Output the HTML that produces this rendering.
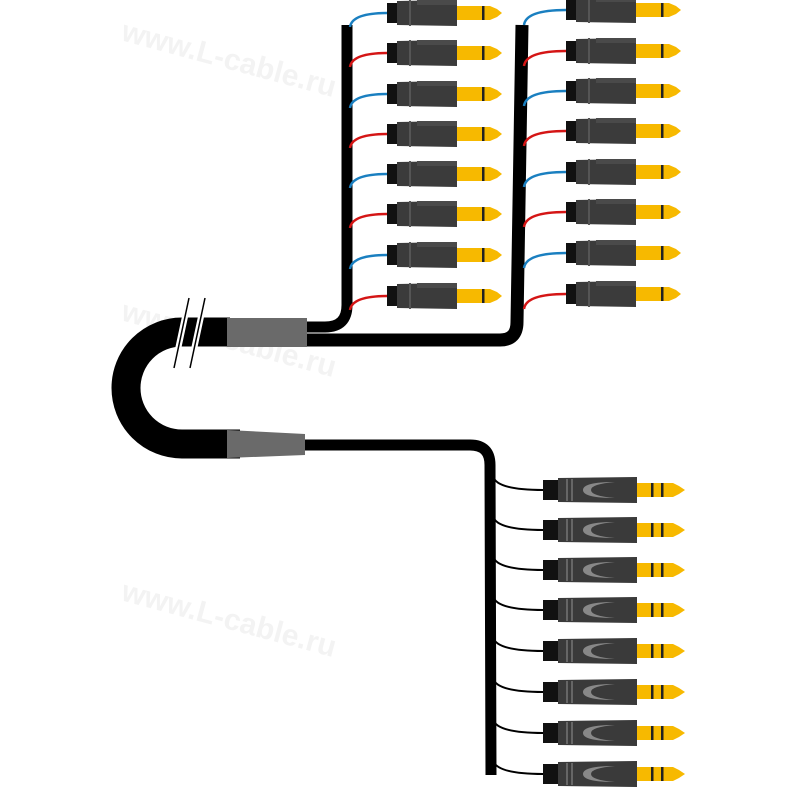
<!DOCTYPE html>
<html><head><style>html,body{margin:0;padding:0;background:#fff;}svg{display:block}</style></head>
<body>
<svg width="800" height="800" viewBox="0 0 800 800" xmlns="http://www.w3.org/2000/svg">
<defs>
  <g id="mono">
    <rect x="0" y="-10" width="11" height="20" fill="#111"/>
    <path d="M10,-12 L70,-13 L70,13 L10,12 Z" fill="#3b3b3b"/>
    <rect x="22" y="-13" width="2" height="26" fill="#555"/>
    <rect x="30" y="-13" width="40" height="5" fill="#4a4a4a"/>
    <rect x="70" y="-7" width="33" height="14" fill="#f7b900"/>
    <rect x="95" y="-7" width="2.5" height="14" fill="#222"/>
    <path d="M103,-7 L110,-4 L115,0 L110,4 L103,7 Z" fill="#f7b900"/>
  </g>
  <g id="stereo">
    <rect x="0" y="-10" width="17" height="20" fill="#111"/>
    <path d="M15,-12 L94,-13 L94,13 L15,12 Z" fill="#3a3a3a"/>
    <rect x="23" y="-11" width="2" height="22" fill="#666"/>
    <rect x="28" y="-11" width="2" height="22" fill="#666"/>
    <path d="M72,-8 Q40,-8 40,0 Q40,8 72,8 Q48,6 48,0 Q48,-6 72,-8 Z" fill="#888"/>
    <rect x="94" y="-7" width="36" height="14" fill="#f7b900"/>
    <rect x="108" y="-7" width="2.5" height="14" fill="#222"/>
    <rect x="118" y="-7" width="2.5" height="14" fill="#222"/>
    <path d="M130,-7 L136,-4 L142,0 L136,4 L130,7 Z" fill="#f7b900"/>
  </g>
</defs>

<g fill="#f3f3f3" font-family="Liberation Sans, sans-serif" font-weight="bold">
  <text x="120" y="40" font-size="30" transform="rotate(15 120 40)">www.L-cable.ru</text>
  <text x="120" y="320" font-size="30" transform="rotate(15 120 320)">www.L-cable.ru</text>
  <text x="120" y="600" font-size="30" transform="rotate(15 120 600)">www.L-cable.ru</text>
</g>

<!-- main cable loop -->
<path d="M230,332 L182,332 A56,56 0 0 0 182,444 L240,444" fill="none" stroke="#000" stroke-width="29"/>
<rect x="227" y="318" width="80" height="29" fill="#6a6a6a"/>
<path d="M227,430 L305,434 L305,455 L227,458 Z" fill="#6a6a6a"/>
<line x1="189" y1="298" x2="174" y2="368" stroke="#fff" stroke-width="6"/>
<line x1="205" y1="298" x2="190" y2="368" stroke="#fff" stroke-width="6"/>
<line x1="189" y1="298" x2="174" y2="368" stroke="#000" stroke-width="1.5"/>
<line x1="205" y1="298" x2="190" y2="368" stroke="#000" stroke-width="1.5"/>

<path d="M307,327 L325,327 Q347,327 347,305 L347,25" fill="none" stroke="#000" stroke-width="11"/>
<path d="M307,340 L500,340 Q517,340 517,322 L522,25" fill="none" stroke="#000" stroke-width="13"/>

<path d="M305,445 L470,445 Q490,445 490,465 L491,775" fill="none" stroke="#000" stroke-width="11"/>

<g fill="none" stroke-width="2.5">
  <path d="M350,27 Q352,13 387,13" stroke="#1a7fc0"/>
  <path d="M350,67 Q352,53 387,53" stroke="#d41515"/>
  <path d="M350,108 Q352,94 387,94" stroke="#1a7fc0"/>
  <path d="M350,148 Q352,134 387,134" stroke="#d41515"/>
  <path d="M350,188 Q352,174 387,174" stroke="#1a7fc0"/>
  <path d="M350,228 Q352,214 387,214" stroke="#d41515"/>
  <path d="M350,269 Q352,255 387,255" stroke="#1a7fc0"/>
  <path d="M350,310 Q352,296 387,296" stroke="#d41515"/>
</g>
<use href="#mono" x="387" y="13"/>
<use href="#mono" x="387" y="53"/>
<use href="#mono" x="387" y="94"/>
<use href="#mono" x="387" y="134"/>
<use href="#mono" x="387" y="174"/>
<use href="#mono" x="387" y="214"/>
<use href="#mono" x="387" y="255"/>
<use href="#mono" x="387" y="296"/>

<g fill="none" stroke-width="2.5">
  <path d="M524,25 Q526,10 566,10" stroke="#1a7fc0"/>
  <path d="M524,66 Q526,51 566,51" stroke="#d41515"/>
  <path d="M524,106 Q526,91 566,91" stroke="#1a7fc0"/>
  <path d="M524,146 Q526,131 566,131" stroke="#d41515"/>
  <path d="M524,187 Q526,172 566,172" stroke="#1a7fc0"/>
  <path d="M524,227 Q526,212 566,212" stroke="#d41515"/>
  <path d="M524,268 Q526,253 566,253" stroke="#1a7fc0"/>
  <path d="M524,309 Q526,294 566,294" stroke="#d41515"/>
</g>
<use href="#mono" x="566" y="10"/>
<use href="#mono" x="566" y="51"/>
<use href="#mono" x="566" y="91"/>
<use href="#mono" x="566" y="131"/>
<use href="#mono" x="566" y="172"/>
<use href="#mono" x="566" y="212"/>
<use href="#mono" x="566" y="253"/>
<use href="#mono" x="566" y="294"/>

<g fill="none" stroke="#000" stroke-width="2">
  <path d="M493,476 Q496,490 543,490"/>
  <path d="M493,516 Q496,530 543,530"/>
  <path d="M493,556 Q496,570 543,570"/>
  <path d="M493,596 Q496,610 543,610"/>
  <path d="M493,637 Q496,651 543,651"/>
  <path d="M493,678 Q496,692 543,692"/>
  <path d="M493,719 Q496,733 543,733"/>
  <path d="M493,760 Q496,774 543,774"/>
</g>
<use href="#stereo" x="543" y="490"/>
<use href="#stereo" x="543" y="530"/>
<use href="#stereo" x="543" y="570"/>
<use href="#stereo" x="543" y="610"/>
<use href="#stereo" x="543" y="651"/>
<use href="#stereo" x="543" y="692"/>
<use href="#stereo" x="543" y="733"/>
<use href="#stereo" x="543" y="774"/>
</svg>
</body></html>
